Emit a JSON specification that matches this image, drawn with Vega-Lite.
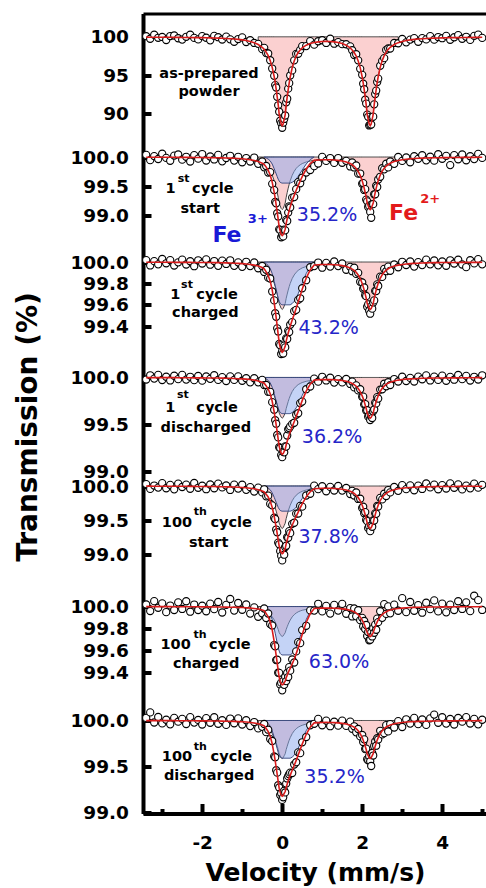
{
"$schema":"https://vega.github.io/schema/vega-lite/v6.json",
"background":"white",
"padding":{"left":14,"top":13.5,"right":0,"bottom":0},
"spacing":0,
"bounds":"flush",
"config":{
 "view":{"stroke":null},
 "axis":{"domainColor":"#000","domainWidth":4,"tickColor":"#000","tickWidth":4,"grid":false,"labelFont":"DejaVu Sans","labelFontWeight":"bold","labelFontSize":18.5,"labelColor":"#000","labelFlush":false,"labelOverlap":false,"titleFont":"DejaVu Sans","titleFontWeight":"bold","titleColor":"#000","zindex":1},
 "axisY":{"tickSize":-8,"labelPadding":22.5},
 "text":{"font":"DejaVu Sans","align":"center","baseline":"middle","color":"#000"}
},
"datasets":{
"lab":[
{"p":1,"k":"lab","s":"as-prepared","v":-1.83,"t":95.21},
{"p":1,"k":"lab","s":"powder","v":-1.83,"t":92.83},
{"p":2,"k":"lab","s":"1","v":-2.79,"t":99.457},
{"p":2,"k":"sup","s":"st","v":-2.465,"t":99.629},
{"p":2,"k":"lab","s":"cycle","v":-1.735,"t":99.457},
{"p":2,"k":"lab","s":"start","v":-2.05,"t":99.112},
{"p":2,"k":"fe3","s":"Fe","v":-1.38,"t":98.652},
{"p":2,"k":"fe3s","s":"3+","v":-0.61,"t":98.926},
{"p":2,"k":"pct","s":"35.2%","v":1.12,"t":98.997},
{"p":2,"k":"fe2","s":"Fe","v":3.035,"t":99.04},
{"p":2,"k":"fe2s","s":"2+","v":3.7,"t":99.271},
{"p":3,"k":"lab","s":"1","v":-2.6725,"t":99.69},
{"p":3,"k":"sup","s":"st","v":-2.38,"t":99.783},
{"p":3,"k":"lab","s":"cycle","v":-1.63,"t":99.69},
{"p":3,"k":"lab","s":"charged","v":-1.9225,"t":99.519},
{"p":3,"k":"pct","s":"43.2%","v":1.16,"t":99.379},
{"p":4,"k":"lab","s":"1","v":-2.7975,"t":99.67},
{"p":4,"k":"sup","s":"st","v":-2.485,"t":99.812},
{"p":4,"k":"lab","s":"cycle","v":-1.63,"t":99.67},
{"p":4,"k":"lab","s":"discharged","v":-1.91,"t":99.457},
{"p":4,"k":"pct","s":"36.2%","v":1.245,"t":99.369},
{"p":5,"k":"lab","s":"100","v":-2.63,"t":99.449},
{"p":5,"k":"sup","s":"th","v":-2.0475,"t":99.621},
{"p":5,"k":"lab","s":"cycle","v":-1.2775,"t":99.449},
{"p":5,"k":"lab","s":"start","v":-1.84,"t":99.169},
{"p":5,"k":"pct","s":"37.8%","v":1.16,"t":99.253},
{"p":6,"k":"lab","s":"100","v":-2.665,"t":99.648},
{"p":6,"k":"sup","s":"th","v":-2.055,"t":99.739},
{"p":6,"k":"lab","s":"cycle","v":-1.31,"t":99.648},
{"p":6,"k":"lab","s":"charged","v":-1.9025,"t":99.482},
{"p":6,"k":"pct","s":"63.0%","v":1.42,"t":99.497},
{"p":7,"k":"lab","s":"100","v":-2.63,"t":99.605},
{"p":7,"k":"sup","s":"th","v":-2.0475,"t":99.714},
{"p":7,"k":"lab","s":"cycle","v":-1.2725,"t":99.605},
{"p":7,"k":"lab","s":"discharged","v":-1.8275,"t":99.399},
{"p":7,"k":"pct","s":"35.2%","v":1.3075,"t":99.388}
],
"d1":[
{"v":-3.4,"o":100.08,"f":99.96},{"v":-3.3,"o":99.75,"f":99.95},{"v":-3.2,"o":100.27,"f":99.95},{"v":-3.1,"o":99.87,"f":99.95},{"v":-3.0,"o":99.98,"f":99.94},{"v":-2.9,"o":99.58,"f":99.94},{"v":-2.8,"o":100.1,"f":99.94},{"v":-2.7,"o":100.17,"f":99.93},{"v":-2.6,"o":99.81,"f":99.93},{"v":-2.5,"o":99.64,"f":99.92},{"v":-2.4,"o":100.0,"f":99.92},{"v":-2.3,"o":100.27,"f":99.91},{"v":-2.2,"o":99.86,"f":99.9},{"v":-2.1,"o":99.66,"f":99.9},{"v":-2.0,"o":100.09,"f":99.89},{"v":-1.9,"o":99.88,"f":99.88},{"v":-1.8,"o":99.54,"f":99.86},{"v":-1.7,"o":100.13,"f":99.85},{"v":-1.6,"o":99.95,"f":99.83},{"v":-1.5,"o":99.65,"f":99.81},{"v":-1.4,"o":100.02,"f":99.78},{"v":-1.3,"o":99.67,"f":99.75},{"v":-1.2,"o":99.35,"f":99.71},{"v":-1.1,"o":99.71,"f":99.67},{"v":-1.0,"o":99.92,"f":99.6},{"v":-0.9,"o":99.32,"f":99.52},{"v":-0.8,"o":99.56,"f":99.4},{"v":-0.7,"o":99.2,"f":99.24},
{"v":-0.6,"o":99.08,"f":99.0,"a":99.0},{"v":-0.5,"o":98.39,"f":98.63,"a":98.63},{"v":-0.45,"o":98.56,"f":98.36,"a":98.36},{"v":-0.4,"o":97.89,"f":98.01,"a":98.01},{"v":-0.35,"o":97.82,"f":97.54,"a":97.54},{"v":-0.3,"o":96.94,"f":96.9,"a":96.9},{"v":-0.25,"o":95.86,"f":96.02,"a":96.02},{"v":-0.2,"o":94.91,"f":94.79,"a":94.79},{"v":-0.175,"o":93.7,"f":94.02,"a":94.02},{"v":-0.15,"o":93.39,"f":93.15,"a":93.15},{"v":-0.125,"o":92.17,"f":92.17,"a":92.17},{"v":-0.1,"o":91.07,"f":91.15,"a":91.15},{"v":-0.075,"o":90.23,"f":89.87,"a":89.87},{"v":-0.05,"o":89.06,"f":89.26,"a":89.26},{"v":-0.025,"o":88.73,"f":88.65,"a":88.65},{"v":0,"o":88.14,"f":88.42,"a":88.42},{"v":0.025,"o":88.8,"f":88.64,"a":88.64},{"v":0.05,"o":89.29,"f":89.25,"a":89.25},{"v":0.075,"o":89.74,"f":89.86,"a":89.86},{"v":0.1,"o":91.45,"f":91.13,"a":91.13},{"v":0.125,"o":91.92,"f":92.16,"a":92.16},{"v":0.15,"o":93.24,"f":93.12,"a":93.12},{"v":0.175,"o":93.96,"f":94.0,"a":94.0},{"v":0.2,"o":94.96,"f":94.76,"a":94.76},{"v":0.25,"o":95.62,"f":95.98,"a":95.98},{"v":0.3,"o":96.93,"f":96.85,"a":96.85},{"v":0.35,"o":97.77,"f":97.49,"a":97.49},{"v":0.4,"o":97.79,"f":97.95,"a":97.95},{"v":0.45,"o":98.29,"f":98.29,"a":98.29},{"v":0.5,"o":98.79,"f":98.55,"a":98.55},
{"v":0.6,"o":98.79,"f":98.91,"a":98.91},{"v":0.7,"o":99.44,"f":99.12,"a":99.12},{"v":0.8,"o":98.98,"f":99.26,"a":99.26},{"v":0.9,"o":99.42,"f":99.34,"a":99.34},{"v":1.0,"o":99.55,"f":99.39,"a":99.39},{"v":1.1,"o":99.2,"f":99.4,"a":99.4},{"v":1.2,"o":99.75,"f":99.39,"a":99.39},{"v":1.3,"o":99.1,"f":99.34,"a":99.34},{"v":1.4,"o":99.3,"f":99.26,"a":99.26},{"v":1.5,"o":99.04,"f":99.12,"a":99.12},{"v":1.6,"o":99.03,"f":98.91,"a":98.91},
{"v":1.7,"o":98.75,"f":98.55,"a":98.55},{"v":1.75,"o":98.25,"f":98.29,"a":98.29},{"v":1.8,"o":97.63,"f":97.95,"a":97.95},{"v":1.85,"o":97.73,"f":97.49,"a":97.49},{"v":1.9,"o":96.93,"f":96.85,"a":96.85},{"v":1.95,"o":95.82,"f":95.98,"a":95.98},{"v":2.0,"o":95.04,"f":94.76,"a":94.76},{"v":2.025,"o":93.88,"f":94.0,"a":94.0},{"v":2.05,"o":93.16,"f":93.12,"a":93.12},{"v":2.075,"o":91.8,"f":92.16,"a":92.16},{"v":2.1,"o":91.29,"f":91.13,"a":91.13},{"v":2.125,"o":89.86,"f":89.86,"a":89.86},{"v":2.15,"o":89.57,"f":89.25,"a":89.25},{"v":2.175,"o":88.44,"f":88.64,"a":88.64},{"v":2.2,"o":88.54,"f":88.42,"a":88.42},{"v":2.225,"o":88.57,"f":88.65,"a":88.65},{"v":2.25,"o":89.5,"f":89.26,"a":89.26},{"v":2.275,"o":89.59,"f":89.87,"a":89.87},{"v":2.3,"o":91.19,"f":91.15,"a":91.15},{"v":2.325,"o":92.53,"f":92.17,"a":92.17},{"v":2.35,"o":92.99,"f":93.15,"a":93.15},{"v":2.375,"o":94.1,"f":94.02,"a":94.02},{"v":2.4,"o":94.55,"f":94.79,"a":94.79},{"v":2.45,"o":96.22,"f":96.02,"a":96.02},{"v":2.5,"o":96.86,"f":96.9,"a":96.9},{"v":2.55,"o":97.22,"f":97.54,"a":97.54},{"v":2.6,"o":98.29,"f":98.01,"a":98.01},{"v":2.65,"o":98.48,"f":98.36,"a":98.36},{"v":2.7,"o":98.47,"f":98.63,"a":98.63},{"v":2.8,"o":99.2,"f":99.0,"a":99.0},{"v":2.9,"o":99.16,"f":99.24,"a":99.24},
{"v":3.0,"o":99.72,"f":99.4},{"v":3.1,"o":99.28,"f":99.52},{"v":3.2,"o":99.64,"f":99.6},{"v":3.3,"o":99.83,"f":99.67},{"v":3.4,"o":99.35,"f":99.71},{"v":3.5,"o":99.83,"f":99.75},{"v":3.6,"o":99.66,"f":99.78},{"v":3.7,"o":100.09,"f":99.81},{"v":3.8,"o":99.63,"f":99.83},{"v":3.9,"o":99.97,"f":99.85},{"v":4.0,"o":99.82,"f":99.86},{"v":4.1,"o":100.12,"f":99.88},{"v":4.2,"o":99.61,"f":99.89},{"v":4.3,"o":99.94,"f":99.9},{"v":4.4,"o":100.22,"f":99.9},{"v":4.5,"o":99.75,"f":99.91},{"v":4.6,"o":100.0,"f":99.92},{"v":4.7,"o":99.6,"f":99.92},{"v":4.8,"o":100.13,"f":99.93},{"v":4.9,"o":100.29,"f":99.93},{"v":5.0,"o":99.86,"f":99.94}
],
"d2":[
{"v":-3.4,"o":100.037,"f":99.997},{"v":-3.3,"o":99.946,"f":99.996},{"v":-3.2,"o":100.016,"f":99.996},{"v":-3.1,"o":99.966,"f":99.996},{"v":-3.0,"o":100.056,"f":99.996},{"v":-2.9,"o":99.985,"f":99.995},{"v":-2.8,"o":99.935,"f":99.995},{"v":-2.7,"o":100.025,"f":99.995},{"v":-2.6,"o":100.044,"f":99.994},{"v":-2.5,"o":99.954,"f":99.994},{"v":-2.4,"o":100.004,"f":99.994},{"v":-2.3,"o":99.923,"f":99.993},{"v":-2.2,"o":100.032,"f":99.992},{"v":-2.1,"o":99.972,"f":99.992},{"v":-2.0,"o":100.051,"f":99.991},{"v":-1.9,"o":99.94,"f":99.99},{"v":-1.8,"o":100.009,"f":99.989},{"v":-1.7,"o":99.958,"f":99.988},{"v":-1.6,"o":100.037,"f":99.987},{"v":-1.5,"o":99.925,"f":99.985},{"v":-1.4,"o":99.983,"f":99.983},{"v":-1.3,"o":100.021,"f":99.981},{"v":-1.2,"o":99.938,"f":99.978},{"v":-1.1,"o":100.004,"f":99.974},{"v":-1.0,"o":99.909,"f":99.969},{"v":-0.9,"o":99.982,"f":99.962},{"v":-0.8,"o":99.923,"f":99.953},{"v":-0.7,"o":99.991,"f":99.941},
{"v":-0.6,"o":99.882,"f":99.922,"a":99.922},{"v":-0.5,"o":99.923,"f":99.893,"a":99.893},{"v":-0.45,"o":99.822,"f":99.872,"a":99.872,"b":100},{"v":-0.4,"o":99.846,"f":99.826,"a":99.844,"b":99.982},{"v":-0.35,"o":99.731,"f":99.771,"a":99.807,"b":99.964},{"v":-0.3,"o":99.74,"f":99.69,"a":99.757,"b":99.933},{"v":-0.25,"o":99.537,"f":99.567,"a":99.689,"b":99.879},{"v":-0.2,"o":99.43,"f":99.39,"a":99.592,"b":99.798},{"v":-0.175,"o":99.225,"f":99.285,"a":99.532,"b":99.753},{"v":-0.15,"o":99.201,"f":99.171,"a":99.464,"b":99.708},{"v":-0.125,"o":99.03,"f":99.05,"a":99.387,"b":99.663},{"v":-0.1,"o":98.975,"f":98.925,"a":99.307,"b":99.618},{"v":-0.075,"o":98.753,"f":98.793,"a":99.207,"b":99.586},{"v":-0.05,"o":98.743,"f":98.723,"a":99.159,"b":99.564},{"v":-0.025,"o":98.616,"f":98.666,"a":99.112,"b":99.555},{"v":0,"o":98.654,"f":98.644,"a":99.094,"b":99.55},{"v":0.025,"o":98.631,"f":98.661,"a":99.111,"b":99.55},{"v":0.05,"o":98.748,"f":98.708,"a":99.158,"b":99.55},{"v":0.075,"o":98.736,"f":98.756,"a":99.206,"b":99.55},{"v":0.1,"o":98.916,"f":98.856,"a":99.306,"b":99.55},{"v":0.125,"o":98.896,"f":98.936,"a":99.386,"b":99.55},{"v":0.15,"o":99.042,"f":99.012,"a":99.462,"b":99.55},{"v":0.175,"o":99.15,"f":99.08,"a":99.53,"b":99.55},{"v":0.2,"o":99.13,"f":99.14,"a":99.59,"b":99.55},{"v":0.25,"o":99.299,"f":99.249,"a":99.685,"b":99.564},{"v":0.3,"o":99.309,"f":99.339,"a":99.753,"b":99.586},{"v":0.35,"o":99.446,"f":99.426,"a":99.804,"b":99.622},{"v":0.4,"o":99.567,"f":99.507,"a":99.84,"b":99.667},{"v":0.45,"o":99.547,"f":99.587,"a":99.866,"b":99.721},{"v":0.5,"o":99.642,"f":99.662,"a":99.887,"b":99.775},{"v":0.6,"o":99.733,"f":99.793,"a":99.914,"b":99.879},{"v":0.7,"o":99.776,"f":99.886,"a":99.931,"b":99.955},{"v":0.8,"o":99.842,"f":99.942,"a":99.942,"b":100},
{"v":0.9,"o":99.888,"f":99.948,"a":99.948},{"v":1.0,"o":100.002,"f":99.952,"a":99.952},{"v":1.1,"o":99.933,"f":99.953,"a":99.953},{"v":1.2,"o":99.982,"f":99.952,"a":99.952},{"v":1.3,"o":99.898,"f":99.948,"a":99.948},{"v":1.4,"o":99.982,"f":99.942,"a":99.942},{"v":1.5,"o":99.901,"f":99.931,"a":99.931},{"v":1.6,"o":99.934,"f":99.914,"a":99.914},
{"v":1.7,"o":99.837,"f":99.887,"a":99.887},{"v":1.75,"o":99.906,"f":99.866,"a":99.866},{"v":1.8,"o":99.82,"f":99.84,"a":99.84},{"v":1.85,"o":99.854,"f":99.804,"a":99.804},{"v":1.9,"o":99.713,"f":99.753,"a":99.753},{"v":1.95,"o":99.715,"f":99.685,"a":99.685},{"v":2.0,"o":99.54,"f":99.59,"a":99.59},{"v":2.025,"o":99.55,"f":99.53,"a":99.53},{"v":2.05,"o":99.432,"f":99.462,"a":99.462},{"v":2.075,"o":99.446,"f":99.386,"a":99.386},{"v":2.1,"o":99.266,"f":99.306,"a":99.306},{"v":2.125,"o":99.236,"f":99.206,"a":99.206},{"v":2.15,"o":99.138,"f":99.158,"a":99.158},{"v":2.175,"o":99.161,"f":99.111,"a":99.111},{"v":2.2,"o":99.054,"f":99.094,"a":99.094},{"v":2.225,"o":98.952,"f":99.112,"a":99.112},{"v":2.25,"o":99.189,"f":99.159,"a":99.159},{"v":2.275,"o":99.187,"f":99.207,"a":99.207},{"v":2.3,"o":99.357,"f":99.307,"a":99.307},{"v":2.325,"o":99.357,"f":99.387,"a":99.387},{"v":2.35,"o":99.504,"f":99.464,"a":99.464},{"v":2.375,"o":99.482,"f":99.532,"a":99.532},{"v":2.4,"o":99.612,"f":99.592,"a":99.592},{"v":2.45,"o":99.659,"f":99.689,"a":99.689},{"v":2.5,"o":99.807,"f":99.757,"a":99.757},{"v":2.55,"o":99.787,"f":99.807,"a":99.807},{"v":2.6,"o":99.884,"f":99.844,"a":99.844},{"v":2.65,"o":99.821,"f":99.871,"a":99.871},{"v":2.7,"o":99.923,"f":99.893,"a":99.893},{"v":2.8,"o":99.882,"f":99.922,"a":99.922},{"v":2.9,"o":100.001,"f":99.941,"a":99.941},
{"v":3.0,"o":99.933,"f":99.953},{"v":3.1,"o":99.992,"f":99.962},{"v":3.2,"o":99.909,"f":99.969},{"v":3.3,"o":100.014,"f":99.974},{"v":3.4,"o":99.968,"f":99.978},{"v":3.5,"o":100.031,"f":99.981},{"v":3.6,"o":99.943,"f":99.983},{"v":3.7,"o":100.005,"f":99.985},{"v":3.8,"o":99.937,"f":99.987},{"v":3.9,"o":100.048,"f":99.988},{"v":4.0,"o":99.969,"f":99.989},{"v":4.1,"o":100.02,"f":99.99},{"v":4.2,"o":99.861,"f":99.991},{"v":4.3,"o":100.032,"f":99.992},{"v":4.4,"o":99.962,"f":99.992},{"v":4.5,"o":100.043,"f":99.993},{"v":4.6,"o":99.944,"f":99.994},{"v":4.7,"o":100.014,"f":99.994},{"v":4.8,"o":99.964,"f":99.994},{"v":4.9,"o":100.055,"f":99.995},{"v":5.0,"o":99.985,"f":99.995}
],
"d3":[
{"v":-3.4,"o":100.018,"f":99.998},{"v":-3.3,"o":99.968,"f":99.998},{"v":-3.2,"o":100.008,"f":99.998},{"v":-3.1,"o":99.978,"f":99.998},{"v":-3.0,"o":100.028,"f":99.998},{"v":-2.9,"o":99.988,"f":99.998},{"v":-2.8,"o":100.018,"f":99.998},{"v":-2.7,"o":99.967,"f":99.997},{"v":-2.6,"o":99.997,"f":99.997},{"v":-2.5,"o":100.022,"f":99.997},{"v":-2.4,"o":99.977,"f":99.997},{"v":-2.3,"o":100.007,"f":99.997},{"v":-2.2,"o":99.961,"f":99.996},{"v":-2.1,"o":100.016,"f":99.996},{"v":-2.0,"o":99.986,"f":99.996},{"v":-1.9,"o":100.025,"f":99.995},{"v":-1.8,"o":99.975,"f":99.995},{"v":-1.7,"o":100.009,"f":99.994},{"v":-1.6,"o":99.964,"f":99.994},{"v":-1.5,"o":100.013,"f":99.993},{"v":-1.4,"o":99.982,"f":99.992},{"v":-1.3,"o":100.016,"f":99.991},{"v":-1.2,"o":99.964,"f":99.989},{"v":-1.1,"o":99.997,"f":99.987},{"v":-1.0,"o":99.955,"f":99.985},{"v":-0.9,"o":100.002,"f":99.982},{"v":-0.8,"o":99.962,"f":99.977},{"v":-0.7,"o":99.996,"f":99.971},
{"v":-0.6,"o":99.942,"f":99.962,"a":99.962},{"v":-0.5,"o":99.963,"f":99.948,"a":99.948},{"v":-0.45,"o":99.907,"f":99.937,"a":99.937,"b":100},{"v":-0.4,"o":99.928,"f":99.908,"a":99.924,"b":99.984},{"v":-0.35,"o":99.854,"f":99.874,"a":99.906,"b":99.968},{"v":-0.3,"o":99.846,"f":99.821,"a":99.881,"b":99.94},{"v":-0.25,"o":99.725,"f":99.74,"a":99.848,"b":99.892},{"v":-0.2,"o":99.641,"f":99.621,"a":99.801,"b":99.82},{"v":-0.175,"o":99.521,"f":99.551,"a":99.771,"b":99.78},{"v":-0.15,"o":99.488,"f":99.478,"a":99.738,"b":99.74},{"v":-0.125,"o":99.38,"f":99.4,"a":99.7,"b":99.7},{"v":-0.1,"o":99.351,"f":99.321,"a":99.661,"b":99.66},{"v":-0.075,"o":99.234,"f":99.244,"a":99.612,"b":99.632},{"v":-0.05,"o":99.221,"f":99.201,"a":99.589,"b":99.612},{"v":-0.025,"o":99.14,"f":99.17,"a":99.566,"b":99.604},{"v":0,"o":99.167,"f":99.157,"a":99.557,"b":99.6},{"v":0.025,"o":99.145,"f":99.165,"a":99.565,"b":99.6},{"v":0.05,"o":99.219,"f":99.189,"a":99.589,"b":99.6},{"v":0.075,"o":99.202,"f":99.212,"a":99.612,"b":99.6},{"v":0.1,"o":99.286,"f":99.261,"a":99.661,"b":99.6},{"v":0.125,"o":99.28,"f":99.3,"a":99.7,"b":99.6},{"v":0.15,"o":99.357,"f":99.337,"a":99.737,"b":99.6},{"v":0.175,"o":99.345,"f":99.37,"a":99.77,"b":99.6},{"v":0.2,"o":99.414,"f":99.399,"a":99.799,"b":99.6},{"v":0.25,"o":99.438,"f":99.458,"a":99.846,"b":99.612},{"v":0.3,"o":99.541,"f":99.511,"a":99.879,"b":99.632},{"v":0.35,"o":99.553,"f":99.568,"a":99.904,"b":99.664},{"v":0.4,"o":99.646,"f":99.626,"a":99.922,"b":99.704},{"v":0.45,"o":99.661,"f":99.686,"a":99.934,"b":99.752},{"v":0.5,"o":99.755,"f":99.745,"a":99.945,"b":99.8},{"v":0.6,"o":99.83,"f":99.85,"a":99.958,"b":99.892},{"v":0.7,"o":99.951,"f":99.926,"a":99.966,"b":99.96},{"v":0.8,"o":99.962,"f":99.972,"a":99.972,"b":100},
{"v":0.9,"o":99.995,"f":99.975,"a":99.975},{"v":1.0,"o":99.947,"f":99.977,"a":99.977},{"v":1.1,"o":99.992,"f":99.977,"a":99.977},{"v":1.2,"o":99.957,"f":99.977,"a":99.977},{"v":1.3,"o":100.005,"f":99.975,"a":99.975},{"v":1.4,"o":99.962,"f":99.972,"a":99.972},{"v":1.5,"o":99.986,"f":99.966,"a":99.966},{"v":1.6,"o":99.928,"f":99.958,"a":99.958},
{"v":1.7,"o":99.955,"f":99.945,"a":99.945},{"v":1.75,"o":99.914,"f":99.934,"a":99.934},{"v":1.8,"o":99.947,"f":99.922,"a":99.922},{"v":1.85,"o":99.889,"f":99.904,"a":99.904},{"v":1.9,"o":99.899,"f":99.879,"a":99.879},{"v":1.95,"o":99.816,"f":99.846,"a":99.846},{"v":2.0,"o":99.809,"f":99.799,"a":99.799},{"v":2.025,"o":99.75,"f":99.77,"a":99.77},{"v":2.05,"o":99.762,"f":99.737,"a":99.737},{"v":2.075,"o":99.69,"f":99.7,"a":99.7},{"v":2.1,"o":99.681,"f":99.661,"a":99.661},{"v":2.125,"o":99.582,"f":99.612,"a":99.612},{"v":2.15,"o":99.604,"f":99.589,"a":99.589},{"v":2.175,"o":99.545,"f":99.565,"a":99.565},{"v":2.2,"o":99.517,"f":99.557,"a":99.557},{"v":2.225,"o":99.586,"f":99.566,"a":99.566},{"v":2.25,"o":99.564,"f":99.589,"a":99.589},{"v":2.275,"o":99.622,"f":99.612,"a":99.612},{"v":2.3,"o":99.641,"f":99.661,"a":99.661},{"v":2.325,"o":99.73,"f":99.7,"a":99.7},{"v":2.35,"o":99.728,"f":99.738,"a":99.738},{"v":2.375,"o":99.791,"f":99.771,"a":99.771},{"v":2.4,"o":99.776,"f":99.801,"a":99.801},{"v":2.45,"o":99.863,"f":99.848,"a":99.848},{"v":2.5,"o":99.861,"f":99.881,"a":99.881},{"v":2.55,"o":99.936,"f":99.906,"a":99.906},{"v":2.6,"o":99.914,"f":99.924,"a":99.924},{"v":2.65,"o":99.957,"f":99.937,"a":99.937},{"v":2.7,"o":99.918,"f":99.948,"a":99.948},{"v":2.8,"o":99.977,"f":99.962,"a":99.962},{"v":2.9,"o":99.951,"f":99.971,"a":99.971},
{"v":3.0,"o":100.002,"f":99.977},{"v":3.1,"o":99.972,"f":99.982},{"v":3.2,"o":100.005,"f":99.985},{"v":3.3,"o":99.957,"f":99.987},{"v":3.4,"o":99.999,"f":99.989},{"v":3.5,"o":99.971,"f":99.991},{"v":3.6,"o":100.022,"f":99.992},{"v":3.7,"o":99.978,"f":99.993},{"v":3.8,"o":100.014,"f":99.994},{"v":3.9,"o":99.969,"f":99.994},{"v":4.0,"o":100.005,"f":99.995},{"v":4.1,"o":99.965,"f":99.995},{"v":4.2,"o":100.016,"f":99.996},{"v":4.3,"o":99.986,"f":99.996},{"v":4.4,"o":100.021,"f":99.996},{"v":4.5,"o":99.977,"f":99.997},{"v":4.6,"o":99.952,"f":99.997},{"v":4.7,"o":100.017,"f":99.997},{"v":4.8,"o":99.987,"f":99.997},{"v":4.9,"o":100.027,"f":99.997},{"v":5.0,"o":99.978,"f":99.998}
],
"d4":[
{"v":-3.4,"o":99.978,"f":99.998},{"v":-3.3,"o":100.023,"f":99.998},{"v":-3.2,"o":99.988,"f":99.998},{"v":-3.1,"o":100.028,"f":99.998},{"v":-3.0,"o":99.973,"f":99.998},{"v":-2.9,"o":100.008,"f":99.998},{"v":-2.8,"o":99.968,"f":99.998},{"v":-2.7,"o":100.018,"f":99.998},{"v":-2.6,"o":99.982,"f":99.997},{"v":-2.5,"o":100.027,"f":99.997},{"v":-2.4,"o":99.977,"f":99.997},{"v":-2.3,"o":100.007,"f":99.997},{"v":-2.2,"o":99.971,"f":99.996},{"v":-2.1,"o":100.016,"f":99.996},{"v":-2.0,"o":99.966,"f":99.996},{"v":-1.9,"o":100.01,"f":99.995},{"v":-1.8,"o":99.985,"f":99.995},{"v":-1.7,"o":100.024,"f":99.994},{"v":-1.6,"o":99.974,"f":99.994},{"v":-1.5,"o":100.003,"f":99.993},{"v":-1.4,"o":99.962,"f":99.992},{"v":-1.3,"o":100.011,"f":99.991},{"v":-1.2,"o":99.974,"f":99.989},{"v":-1.1,"o":100.012,"f":99.987},{"v":-1.0,"o":99.965,"f":99.985},{"v":-0.9,"o":99.992,"f":99.982},{"v":-0.8,"o":99.948,"f":99.978},{"v":-0.7,"o":99.992,"f":99.972},
{"v":-0.6,"o":99.948,"f":99.963,"a":99.963},{"v":-0.5,"o":99.974,"f":99.949,"a":99.949},{"v":-0.45,"o":99.919,"f":99.939,"a":99.939,"b":100},{"v":-0.4,"o":99.92,"f":99.91,"a":99.926,"b":99.985},{"v":-0.35,"o":99.847,"f":99.877,"a":99.908,"b":99.969},{"v":-0.3,"o":99.846,"f":99.826,"a":99.884,"b":99.942},{"v":-0.25,"o":99.737,"f":99.747,"a":99.851,"b":99.896},{"v":-0.2,"o":99.657,"f":99.632,"a":99.805,"b":99.827},{"v":-0.175,"o":99.545,"f":99.565,"a":99.776,"b":99.788},{"v":-0.15,"o":99.508,"f":99.493,"a":99.744,"b":99.75},{"v":-0.125,"o":99.388,"f":99.418,"a":99.707,"b":99.711},{"v":-0.1,"o":99.362,"f":99.342,"a":99.669,"b":99.673},{"v":-0.075,"o":99.257,"f":99.267,"a":99.621,"b":99.646},{"v":-0.05,"o":99.25,"f":99.225,"a":99.598,"b":99.627},{"v":-0.025,"o":99.174,"f":99.194,"a":99.576,"b":99.619},{"v":0,"o":99.152,"f":99.182,"a":99.567,"b":99.615},{"v":0.025,"o":99.21,"f":99.19,"a":99.575,"b":99.615},{"v":0.05,"o":99.203,"f":99.213,"a":99.598,"b":99.615},{"v":0.075,"o":99.266,"f":99.236,"a":99.621,"b":99.615},{"v":0.1,"o":99.264,"f":99.284,"a":99.669,"b":99.615},{"v":0.125,"o":99.382,"f":99.322,"a":99.707,"b":99.615},{"v":0.15,"o":99.448,"f":99.358,"a":99.743,"b":99.615},{"v":0.175,"o":99.461,"f":99.391,"a":99.776,"b":99.615},{"v":0.2,"o":99.479,"f":99.419,"a":99.804,"b":99.615},{"v":0.25,"o":99.506,"f":99.476,"a":99.85,"b":99.627},{"v":0.3,"o":99.518,"f":99.528,"a":99.882,"b":99.646},{"v":0.35,"o":99.603,"f":99.583,"a":99.906,"b":99.677},{"v":0.4,"o":99.619,"f":99.639,"a":99.924,"b":99.715},{"v":0.45,"o":99.727,"f":99.697,"a":99.936,"b":99.761},{"v":0.5,"o":99.743,"f":99.753,"a":99.946,"b":99.808},{"v":0.6,"o":99.875,"f":99.855,"a":99.959,"b":99.896},{"v":0.7,"o":99.904,"f":99.929,"a":99.967,"b":99.962},{"v":0.8,"o":99.987,"f":99.972,"a":99.972,"b":100},
{"v":0.9,"o":99.955,"f":99.975,"a":99.975},{"v":1.0,"o":100.007,"f":99.977,"a":99.977},{"v":1.1,"o":99.968,"f":99.978,"a":99.978},{"v":1.2,"o":99.997,"f":99.977,"a":99.977},{"v":1.3,"o":99.945,"f":99.975,"a":99.975},{"v":1.4,"o":99.982,"f":99.972,"a":99.972},{"v":1.5,"o":99.947,"f":99.967,"a":99.967},{"v":1.6,"o":99.984,"f":99.959,"a":99.959},
{"v":1.7,"o":99.931,"f":99.946,"a":99.946},{"v":1.75,"o":99.956,"f":99.936,"a":99.936},{"v":1.8,"o":99.894,"f":99.924,"a":99.924},{"v":1.85,"o":99.916,"f":99.906,"a":99.906},{"v":1.9,"o":99.862,"f":99.882,"a":99.882},{"v":1.95,"o":99.875,"f":99.85,"a":99.85},{"v":2.0,"o":99.794,"f":99.804,"a":99.804},{"v":2.025,"o":99.796,"f":99.776,"a":99.776},{"v":2.05,"o":99.713,"f":99.743,"a":99.743},{"v":2.075,"o":99.717,"f":99.707,"a":99.707},{"v":2.1,"o":99.649,"f":99.669,"a":99.669},{"v":2.125,"o":99.651,"f":99.621,"a":99.621},{"v":2.15,"o":99.583,"f":99.598,"a":99.598},{"v":2.175,"o":99.595,"f":99.575,"a":99.575},{"v":2.2,"o":99.547,"f":99.567,"a":99.567},{"v":2.225,"o":99.586,"f":99.576,"a":99.576},{"v":2.25,"o":99.568,"f":99.598,"a":99.598},{"v":2.275,"o":99.641,"f":99.621,"a":99.621},{"v":2.3,"o":99.659,"f":99.669,"a":99.669},{"v":2.325,"o":99.732,"f":99.707,"a":99.707},{"v":2.35,"o":99.724,"f":99.744,"a":99.744},{"v":2.375,"o":99.791,"f":99.776,"a":99.776},{"v":2.4,"o":99.775,"f":99.805,"a":99.805},{"v":2.45,"o":99.871,"f":99.851,"a":99.851},{"v":2.5,"o":99.874,"f":99.884,"a":99.884},{"v":2.55,"o":99.933,"f":99.908,"a":99.908},{"v":2.6,"o":99.906,"f":99.926,"a":99.926},{"v":2.65,"o":99.949,"f":99.939,"a":99.939},{"v":2.7,"o":99.919,"f":99.949,"a":99.949},{"v":2.8,"o":99.983,"f":99.963,"a":99.963},{"v":2.9,"o":99.957,"f":99.972,"a":99.972},
{"v":3.0,"o":100.008,"f":99.978},{"v":3.1,"o":99.962,"f":99.982},{"v":3.2,"o":99.995,"f":99.985},{"v":3.3,"o":99.957,"f":99.987},{"v":3.4,"o":100.009,"f":99.989},{"v":3.5,"o":99.981,"f":99.991},{"v":3.6,"o":100.022,"f":99.992},{"v":3.7,"o":99.968,"f":99.993},{"v":3.8,"o":100.009,"f":99.994},{"v":3.9,"o":99.974,"f":99.994},{"v":4.0,"o":100.02,"f":99.995},{"v":4.1,"o":99.965,"f":99.995},{"v":4.2,"o":100.006,"f":99.996},{"v":4.3,"o":99.976,"f":99.996},{"v":4.4,"o":100.026,"f":99.996},{"v":4.5,"o":99.982,"f":99.997},{"v":4.6,"o":100.017,"f":99.997},{"v":4.7,"o":99.967,"f":99.997},{"v":4.8,"o":100.007,"f":99.997},{"v":4.9,"o":99.978,"f":99.998},{"v":5.0,"o":100.023,"f":99.998}
],
"d5":[
{"v":-3.4,"o":100.028,"f":99.998},{"v":-3.3,"o":99.958,"f":99.998},{"v":-3.2,"o":100.007,"f":99.997},{"v":-3.1,"o":99.977,"f":99.997},{"v":-3.0,"o":100.042,"f":99.997},{"v":-2.9,"o":99.967,"f":99.997},{"v":-2.8,"o":100.017,"f":99.997},{"v":-2.7,"o":99.951,"f":99.996},{"v":-2.6,"o":100.036,"f":99.996},{"v":-2.5,"o":99.986,"f":99.996},{"v":-2.4,"o":100.021,"f":99.996},{"v":-2.3,"o":99.96,"f":99.995},{"v":-2.2,"o":100.045,"f":99.995},{"v":-2.1,"o":99.974,"f":99.994},{"v":-2.0,"o":100.004,"f":99.994},{"v":-1.9,"o":99.953,"f":99.993},{"v":-1.8,"o":100.023,"f":99.993},{"v":-1.7,"o":99.967,"f":99.992},{"v":-1.6,"o":100.036,"f":99.991},{"v":-1.5,"o":99.98,"f":99.99},{"v":-1.4,"o":100.008,"f":99.988},{"v":-1.3,"o":99.942,"f":99.987},{"v":-1.2,"o":100.02,"f":99.985},{"v":-1.1,"o":99.962,"f":99.982},{"v":-1.0,"o":100.019,"f":99.979},{"v":-0.9,"o":99.944,"f":99.974},{"v":-0.8,"o":99.983,"f":99.968},{"v":-0.7,"o":99.919,"f":99.959},
{"v":-0.6,"o":99.976,"f":99.946,"a":99.946},{"v":-0.5,"o":99.906,"f":99.926,"a":99.926},{"v":-0.45,"o":99.952,"f":99.912,"a":99.912,"b":100},{"v":-0.4,"o":99.848,"f":99.878,"a":99.893,"b":99.985},{"v":-0.35,"o":99.858,"f":99.838,"a":99.867,"b":99.97},{"v":-0.3,"o":99.737,"f":99.777,"a":99.833,"b":99.945},{"v":-0.25,"o":99.716,"f":99.686,"a":99.786,"b":99.9},{"v":-0.2,"o":99.533,"f":99.553,"a":99.719,"b":99.834},{"v":-0.175,"o":99.514,"f":99.474,"a":99.678,"b":99.797},{"v":-0.15,"o":99.36,"f":99.39,"a":99.631,"b":99.76},{"v":-0.125,"o":99.32,"f":99.3,"a":99.578,"b":99.723},{"v":-0.1,"o":99.168,"f":99.208,"a":99.523,"b":99.686},{"v":-0.075,"o":99.143,"f":99.113,"a":99.454,"b":99.66},{"v":-0.05,"o":99.042,"f":99.062,"a":99.421,"b":99.641},{"v":-0.025,"o":98.972,"f":99.022,"a":99.388,"b":99.634},{"v":0,"o":98.906,"f":99.006,"a":99.376,"b":99.63},{"v":0.025,"o":99.057,"f":99.017,"a":99.387,"b":99.63},{"v":0.05,"o":98.99,"f":99.05,"a":99.42,"b":99.63},{"v":0.075,"o":99.103,"f":99.083,"a":99.453,"b":99.63},{"v":0.1,"o":99.122,"f":99.152,"a":99.522,"b":99.63},{"v":0.125,"o":99.247,"f":99.207,"a":99.577,"b":99.63},{"v":0.15,"o":99.239,"f":99.259,"a":99.629,"b":99.63},{"v":0.175,"o":99.336,"f":99.306,"a":99.676,"b":99.63},{"v":0.2,"o":99.307,"f":99.347,"a":99.717,"b":99.63},{"v":0.25,"o":99.444,"f":99.424,"a":99.783,"b":99.641},{"v":0.3,"o":99.46,"f":99.49,"a":99.83,"b":99.66},{"v":0.35,"o":99.594,"f":99.554,"a":99.865,"b":99.689},{"v":0.4,"o":99.596,"f":99.616,"a":99.89,"b":99.726},{"v":0.45,"o":99.708,"f":99.678,"a":99.908,"b":99.771},{"v":0.5,"o":99.697,"f":99.737,"a":99.922,"b":99.815},{"v":0.6,"o":99.861,"f":99.841,"a":99.941,"b":99.9},{"v":0.7,"o":99.886,"f":99.916,"a":99.953,"b":99.963},{"v":0.8,"o":100.005,"f":99.96,"a":99.96,"b":100},
{"v":0.9,"o":99.954,"f":99.964,"a":99.964},{"v":1.0,"o":99.997,"f":99.967,"a":99.967},{"v":1.1,"o":99.923,"f":99.968,"a":99.968},{"v":1.2,"o":99.987,"f":99.967,"a":99.967},{"v":1.3,"o":99.934,"f":99.964,"a":99.964},{"v":1.4,"o":100.0,"f":99.96,"a":99.96},{"v":1.5,"o":99.933,"f":99.953,"a":99.953},{"v":1.6,"o":99.971,"f":99.941,"a":99.941},
{"v":1.7,"o":99.882,"f":99.922,"a":99.922},{"v":1.75,"o":99.928,"f":99.908,"a":99.908},{"v":1.8,"o":99.86,"f":99.89,"a":99.89},{"v":1.85,"o":99.905,"f":99.865,"a":99.865},{"v":1.9,"o":99.81,"f":99.83,"a":99.83},{"v":1.95,"o":99.813,"f":99.783,"a":99.783},{"v":2.0,"o":99.677,"f":99.717,"a":99.717},{"v":2.025,"o":99.696,"f":99.676,"a":99.676},{"v":2.05,"o":99.599,"f":99.629,"a":99.629},{"v":2.075,"o":99.617,"f":99.577,"a":99.577},{"v":2.1,"o":99.502,"f":99.522,"a":99.522},{"v":2.125,"o":99.483,"f":99.453,"a":99.453},{"v":2.15,"o":99.38,"f":99.42,"a":99.42},{"v":2.175,"o":99.407,"f":99.387,"a":99.387},{"v":2.2,"o":99.336,"f":99.376,"a":99.376},{"v":2.225,"o":99.418,"f":99.388,"a":99.388},{"v":2.25,"o":99.401,"f":99.421,"a":99.421},{"v":2.275,"o":99.494,"f":99.454,"a":99.454},{"v":2.3,"o":99.493,"f":99.523,"a":99.523},{"v":2.325,"o":99.598,"f":99.578,"a":99.578},{"v":2.35,"o":99.591,"f":99.631,"a":99.631},{"v":2.375,"o":99.708,"f":99.678,"a":99.678},{"v":2.4,"o":99.699,"f":99.719,"a":99.719},{"v":2.45,"o":99.826,"f":99.786,"a":99.786},{"v":2.5,"o":99.803,"f":99.833,"a":99.833},{"v":2.55,"o":99.887,"f":99.867,"a":99.867},{"v":2.6,"o":99.853,"f":99.893,"a":99.893},{"v":2.65,"o":99.941,"f":99.911,"a":99.911},{"v":2.7,"o":99.906,"f":99.926,"a":99.926},{"v":2.8,"o":99.986,"f":99.946,"a":99.946},{"v":2.9,"o":99.929,"f":99.959,"a":99.959},
{"v":3.0,"o":100.013,"f":99.968},{"v":3.1,"o":99.954,"f":99.974},{"v":3.2,"o":100.009,"f":99.979},{"v":3.3,"o":99.937,"f":99.982},{"v":3.4,"o":100.005,"f":99.985},{"v":3.5,"o":99.957,"f":99.987},{"v":3.6,"o":100.038,"f":99.988},{"v":3.7,"o":99.98,"f":99.99},{"v":3.8,"o":100.021,"f":99.991},{"v":3.9,"o":99.952,"f":99.992},{"v":4.0,"o":100.013,"f":99.993},{"v":4.1,"o":99.963,"f":99.993},{"v":4.2,"o":100.039,"f":99.994},{"v":4.3,"o":99.974,"f":99.994},{"v":4.4,"o":100.025,"f":99.995},{"v":4.5,"o":99.95,"f":99.995},{"v":4.6,"o":100.006,"f":99.996},{"v":4.7,"o":99.966,"f":99.996},{"v":4.8,"o":100.036,"f":99.996},{"v":4.9,"o":99.976,"f":99.996},{"v":5.0,"o":100.017,"f":99.997}
],
"d6":[
{"v":-3.4,"o":100.019,"f":99.999},{"v":-3.3,"o":99.959,"f":99.999},{"v":-3.2,"o":100.049,"f":99.999},{"v":-3.1,"o":99.989,"f":99.999},{"v":-3.0,"o":100.029,"f":99.999},{"v":-2.9,"o":99.949,"f":99.999},{"v":-2.8,"o":100.009,"f":99.999},{"v":-2.7,"o":99.968,"f":99.998},{"v":-2.6,"o":100.038,"f":99.998},{"v":-2.5,"o":99.978,"f":99.998},{"v":-2.4,"o":100.048,"f":99.998},{"v":-2.3,"o":99.953,"f":99.998},{"v":-2.2,"o":100.018,"f":99.998},{"v":-2.1,"o":99.968,"f":99.998},{"v":-2.0,"o":100.007,"f":99.997},{"v":-1.9,"o":99.957,"f":99.997},{"v":-1.8,"o":100.027,"f":99.997},{"v":-1.7,"o":99.976,"f":99.996},{"v":-1.6,"o":100.041,"f":99.996},{"v":-1.5,"o":99.946,"f":99.996},{"v":-1.4,"o":100.015,"f":99.995},{"v":-1.3,"o":100.069,"f":99.994},{"v":-1.2,"o":99.963,"f":99.993},{"v":-1.1,"o":100.032,"f":99.992},{"v":-1.0,"o":99.971,"f":99.991},{"v":-0.9,"o":100.019,"f":99.989},{"v":-0.8,"o":99.936,"f":99.986},{"v":-0.7,"o":99.992,"f":99.982},
{"v":-0.6,"o":99.907,"f":99.977,"a":99.977},{"v":-0.5,"o":99.938,"f":99.968,"a":99.968},{"v":-0.45,"o":99.982,"f":99.962,"a":99.962,"b":100},{"v":-0.4,"o":99.896,"f":99.936,"a":99.953,"b":99.982},{"v":-0.35,"o":99.937,"f":99.907,"a":99.942,"b":99.965},{"v":-0.3,"o":99.841,"f":99.861,"a":99.927,"b":99.934},{"v":-0.25,"o":99.828,"f":99.788,"a":99.907,"b":99.881},{"v":-0.2,"o":99.65,"f":99.68,"a":99.878,"b":99.802},{"v":-0.175,"o":99.638,"f":99.618,"a":99.86,"b":99.758},{"v":-0.15,"o":99.513,"f":99.553,"a":99.839,"b":99.714},{"v":-0.125,"o":99.516,"f":99.486,"a":99.816,"b":99.67},{"v":-0.1,"o":99.398,"f":99.418,"a":99.792,"b":99.626},{"v":-0.075,"o":99.397,"f":99.357,"a":99.762,"b":99.595},{"v":-0.05,"o":99.291,"f":99.321,"a":99.748,"b":99.573},{"v":-0.025,"o":99.308,"f":99.298,"a":99.734,"b":99.564},{"v":0,"o":99.238,"f":99.288,"a":99.728,"b":99.56},{"v":0.025,"o":99.323,"f":99.293,"a":99.733,"b":99.56},{"v":0.05,"o":99.288,"f":99.308,"a":99.748,"b":99.56},{"v":0.075,"o":99.362,"f":99.322,"a":99.762,"b":99.56},{"v":0.1,"o":99.322,"f":99.352,"a":99.792,"b":99.56},{"v":0.125,"o":99.396,"f":99.376,"a":99.816,"b":99.56},{"v":0.15,"o":99.359,"f":99.399,"a":99.839,"b":99.56},{"v":0.175,"o":99.449,"f":99.419,"a":99.859,"b":99.56},{"v":0.2,"o":99.417,"f":99.437,"a":99.877,"b":99.56},{"v":0.25,"o":99.519,"f":99.479,"a":99.906,"b":99.573},{"v":0.3,"o":99.491,"f":99.521,"a":99.926,"b":99.595},{"v":0.35,"o":99.592,"f":99.572,"a":99.941,"b":99.63},{"v":0.4,"o":99.676,"f":99.626,"a":99.952,"b":99.674},{"v":0.45,"o":99.667,"f":99.687,"a":99.96,"b":99.727},{"v":0.5,"o":99.786,"f":99.746,"a":99.966,"b":99.78},{"v":0.6,"o":99.825,"f":99.855,"a":99.974,"b":99.881},{"v":0.7,"o":99.965,"f":99.935,"a":99.979,"b":99.956},{"v":0.8,"o":99.963,"f":99.983,"a":99.983,"b":100},
{"v":0.9,"o":100.025,"f":99.985,"a":99.985},{"v":1.0,"o":99.956,"f":99.986,"a":99.986},{"v":1.1,"o":100.006,"f":99.986,"a":99.986},{"v":1.2,"o":99.936,"f":99.986,"a":99.986},{"v":1.3,"o":100.015,"f":99.985,"a":99.985},{"v":1.4,"o":99.963,"f":99.983,"a":99.983},{"v":1.5,"o":100.024,"f":99.979,"a":99.979},{"v":1.6,"o":99.934,"f":99.974,"a":99.974},
{"v":1.7,"o":99.986,"f":99.966,"a":99.966},{"v":1.75,"o":99.91,"f":99.96,"a":99.96},{"v":1.8,"o":99.982,"f":99.952,"a":99.952},{"v":1.85,"o":99.911,"f":99.941,"a":99.941},{"v":1.9,"o":99.966,"f":99.926,"a":99.926},{"v":1.95,"o":99.876,"f":99.906,"a":99.906},{"v":2.0,"o":99.897,"f":99.877,"a":99.877},{"v":2.025,"o":99.819,"f":99.859,"a":99.859},{"v":2.05,"o":99.869,"f":99.839,"a":99.839},{"v":2.075,"o":99.796,"f":99.816,"a":99.816},{"v":2.1,"o":99.832,"f":99.792,"a":99.792},{"v":2.125,"o":99.732,"f":99.762,"a":99.762},{"v":2.15,"o":99.768,"f":99.748,"a":99.748},{"v":2.175,"o":99.693,"f":99.733,"a":99.733},{"v":2.2,"o":99.698,"f":99.728,"a":99.728},{"v":2.225,"o":99.764,"f":99.734,"a":99.734},{"v":2.25,"o":99.728,"f":99.748,"a":99.748},{"v":2.275,"o":99.802,"f":99.762,"a":99.762},{"v":2.3,"o":99.762,"f":99.792,"a":99.792},{"v":2.325,"o":99.836,"f":99.816,"a":99.816},{"v":2.35,"o":99.789,"f":99.839,"a":99.839},{"v":2.375,"o":99.89,"f":99.86,"a":99.86},{"v":2.4,"o":99.858,"f":99.878,"a":99.878},{"v":2.45,"o":99.957,"f":99.907,"a":99.907},{"v":2.5,"o":99.897,"f":99.927,"a":99.927},{"v":2.55,"o":100.022,"f":99.942,"a":99.942},{"v":2.6,"o":99.933,"f":99.953,"a":99.953},{"v":2.65,"o":100.001,"f":99.961,"a":99.961},{"v":2.7,"o":99.938,"f":99.968,"a":99.968},{"v":2.8,"o":100.017,"f":99.977,"a":99.977},{"v":2.9,"o":99.962,"f":99.982,"a":99.982},
{"v":3.0,"o":100.076,"f":99.986},{"v":3.1,"o":99.949,"f":99.989},{"v":3.2,"o":100.041,"f":99.991},{"v":3.3,"o":99.962,"f":99.992},{"v":3.4,"o":100.013,"f":99.993},{"v":3.5,"o":99.944,"f":99.994},{"v":3.6,"o":100.035,"f":99.995},{"v":3.7,"o":99.976,"f":99.996},{"v":3.8,"o":100.056,"f":99.996},{"v":3.9,"o":99.956,"f":99.996},{"v":4.0,"o":100.027,"f":99.997},{"v":4.1,"o":99.947,"f":99.997},{"v":4.2,"o":100.017,"f":99.997},{"v":4.3,"o":99.968,"f":99.998},{"v":4.4,"o":100.048,"f":99.998},{"v":4.5,"o":99.978,"f":99.998},{"v":4.6,"o":100.038,"f":99.998},{"v":4.7,"o":99.958,"f":99.998},{"v":4.8,"o":100.098,"f":99.998},{"v":4.9,"o":100.058,"f":99.998},{"v":5.0,"o":99.969,"f":99.999}
],
"d7":[
{"v":-3.4,"o":100.028,"f":99.998},{"v":-3.3,"o":100.088,"f":99.998},{"v":-3.2,"o":99.978,"f":99.998},{"v":-3.1,"o":100.038,"f":99.998},{"v":-3.0,"o":99.968,"f":99.998},{"v":-2.9,"o":100.008,"f":99.998},{"v":-2.8,"o":99.958,"f":99.998},{"v":-2.7,"o":100.028,"f":99.998},{"v":-2.6,"o":99.987,"f":99.997},{"v":-2.5,"o":100.017,"f":99.997},{"v":-2.4,"o":99.962,"f":99.997},{"v":-2.3,"o":100.037,"f":99.997},{"v":-2.2,"o":99.977,"f":99.997},{"v":-2.1,"o":100.006,"f":99.996},{"v":-2.0,"o":99.956,"f":99.996},{"v":-1.9,"o":100.026,"f":99.996},{"v":-1.8,"o":99.975,"f":99.995},{"v":-1.7,"o":100.035,"f":99.995},{"v":-1.6,"o":99.964,"f":99.994},{"v":-1.5,"o":100.003,"f":99.993},{"v":-1.4,"o":99.952,"f":99.992},{"v":-1.3,"o":100.021,"f":99.991},{"v":-1.2,"o":99.97,"f":99.99},{"v":-1.1,"o":100.023,"f":99.988},{"v":-1.0,"o":99.956,"f":99.986},{"v":-0.9,"o":100.003,"f":99.983},{"v":-0.8,"o":99.939,"f":99.979},{"v":-0.7,"o":99.983,"f":99.973},
{"v":-0.6,"o":99.914,"f":99.964,"a":99.964},{"v":-0.5,"o":99.931,"f":99.951,"a":99.951},{"v":-0.45,"o":99.962,"f":99.942,"a":99.942,"b":100},{"v":-0.4,"o":99.873,"f":99.913,"a":99.929,"b":99.984},{"v":-0.35,"o":99.9,"f":99.88,"a":99.912,"b":99.967},{"v":-0.3,"o":99.798,"f":99.828,"a":99.889,"b":99.939},{"v":-0.25,"o":99.777,"f":99.747,"a":99.858,"b":99.889},{"v":-0.2,"o":99.61,"f":99.63,"a":99.814,"b":99.816},{"v":-0.175,"o":99.601,"f":99.561,"a":99.787,"b":99.775},{"v":-0.15,"o":99.459,"f":99.489,"a":99.756,"b":99.734},{"v":-0.125,"o":99.433,"f":99.413,"a":99.721,"b":99.693},{"v":-0.1,"o":99.296,"f":99.336,"a":99.684,"b":99.652},{"v":-0.075,"o":99.272,"f":99.262,"a":99.639,"b":99.623},{"v":-0.05,"o":99.189,"f":99.219,"a":99.617,"b":99.602},{"v":-0.025,"o":99.209,"f":99.189,"a":99.595,"b":99.594},{"v":0,"o":99.137,"f":99.177,"a":99.587,"b":99.59},{"v":0.025,"o":99.165,"f":99.185,"a":99.595,"b":99.59},{"v":0.05,"o":99.237,"f":99.207,"a":99.617,"b":99.59},{"v":0.075,"o":99.218,"f":99.228,"a":99.638,"b":99.59},{"v":0.1,"o":99.314,"f":99.274,"a":99.684,"b":99.59},{"v":0.125,"o":99.37,"f":99.31,"a":99.72,"b":99.59},{"v":0.15,"o":99.395,"f":99.345,"a":99.755,"b":99.59},{"v":0.175,"o":99.416,"f":99.376,"a":99.786,"b":99.59},{"v":0.2,"o":99.433,"f":99.403,"a":99.813,"b":99.59},{"v":0.25,"o":99.429,"f":99.459,"a":99.857,"b":99.602},{"v":0.3,"o":99.521,"f":99.511,"a":99.888,"b":99.623},{"v":0.35,"o":99.546,"f":99.566,"a":99.911,"b":99.656},{"v":0.4,"o":99.654,"f":99.624,"a":99.927,"b":99.697},{"v":0.45,"o":99.645,"f":99.685,"a":99.939,"b":99.746},{"v":0.5,"o":99.763,"f":99.743,"a":99.948,"b":99.795},{"v":0.6,"o":99.82,"f":99.85,"a":99.961,"b":99.889},{"v":0.7,"o":99.948,"f":99.928,"a":99.969,"b":99.959},{"v":0.8,"o":99.964,"f":99.974,"a":99.974,"b":100},
{"v":0.9,"o":100.017,"f":99.977,"a":99.977},{"v":1.0,"o":99.948,"f":99.978,"a":99.978},{"v":1.1,"o":99.999,"f":99.979,"a":99.979},{"v":1.2,"o":99.938,"f":99.978,"a":99.978},{"v":1.3,"o":99.987,"f":99.977,"a":99.977},{"v":1.4,"o":99.944,"f":99.974,"a":99.974},{"v":1.5,"o":99.999,"f":99.969,"a":99.969},{"v":1.6,"o":99.941,"f":99.961,"a":99.961},
{"v":1.7,"o":99.988,"f":99.948,"a":99.948},{"v":1.75,"o":99.909,"f":99.939,"a":99.939},{"v":1.8,"o":99.937,"f":99.927,"a":99.927},{"v":1.85,"o":99.871,"f":99.911,"a":99.911},{"v":1.9,"o":99.908,"f":99.888,"a":99.888},{"v":1.95,"o":99.827,"f":99.857,"a":99.857},{"v":2.0,"o":99.843,"f":99.813,"a":99.813},{"v":2.025,"o":99.766,"f":99.786,"a":99.786},{"v":2.05,"o":99.795,"f":99.755,"a":99.755},{"v":2.075,"o":99.69,"f":99.72,"a":99.72},{"v":2.1,"o":99.694,"f":99.684,"a":99.684},{"v":2.125,"o":99.578,"f":99.638,"a":99.638},{"v":2.15,"o":99.567,"f":99.617,"a":99.617},{"v":2.175,"o":99.615,"f":99.595,"a":99.595},{"v":2.2,"o":99.557,"f":99.587,"a":99.587},{"v":2.225,"o":99.505,"f":99.595,"a":99.595},{"v":2.25,"o":99.647,"f":99.617,"a":99.617},{"v":2.275,"o":99.619,"f":99.639,"a":99.639},{"v":2.3,"o":99.724,"f":99.684,"a":99.684},{"v":2.325,"o":99.771,"f":99.721,"a":99.721},{"v":2.35,"o":99.726,"f":99.756,"a":99.756},{"v":2.375,"o":99.807,"f":99.787,"a":99.787},{"v":2.4,"o":99.794,"f":99.814,"a":99.814},{"v":2.45,"o":99.888,"f":99.858,"a":99.858},{"v":2.5,"o":99.849,"f":99.889,"a":99.889},{"v":2.55,"o":99.862,"f":99.912,"a":99.912},{"v":2.6,"o":99.949,"f":99.929,"a":99.929},{"v":2.65,"o":99.881,"f":99.941,"a":99.941},{"v":2.7,"o":99.961,"f":99.951,"a":99.951},{"v":2.8,"o":99.924,"f":99.964,"a":99.964},{"v":2.9,"o":99.993,"f":99.973,"a":99.973},
{"v":3.0,"o":99.929,"f":99.979},{"v":3.1,"o":100.013,"f":99.983},{"v":3.2,"o":99.966,"f":99.986},{"v":3.3,"o":100.028,"f":99.988},{"v":3.4,"o":99.96,"f":99.99},{"v":3.5,"o":100.011,"f":99.991},{"v":3.6,"o":99.952,"f":99.992},{"v":3.7,"o":100.023,"f":99.993},{"v":3.8,"o":100.064,"f":99.994},{"v":3.9,"o":99.975,"f":99.995},{"v":4.0,"o":100.035,"f":99.995},{"v":4.1,"o":99.966,"f":99.996},{"v":4.2,"o":100.016,"f":99.996},{"v":4.3,"o":99.956,"f":99.996},{"v":4.4,"o":100.027,"f":99.997},{"v":4.5,"o":99.987,"f":99.997},{"v":4.6,"o":100.037,"f":99.997},{"v":4.7,"o":99.967,"f":99.997},{"v":4.8,"o":100.017,"f":99.997},{"v":4.9,"o":99.958,"f":99.998},{"v":5.0,"o":100.008,"f":99.998}
]
},
"vconcat":[
{"width":344,"height":122,"data":{"name":"d1"},
 "encoding":{"x":{"field":"v","type":"quantitative","scale":{"domain":[-3.48,5.12],"nice":false,"zero":false},"axis":{"orient":"top","labels":false,"ticks":false,"title":null,"domainWidth":3}}},
 "layer":[
  {"transform":[{"filter":"isValid(datum.a)"}],"mark":{"type":"area","fill":"#f7a1a1","fillOpacity":0.5,"stroke":"#444","strokeWidth":1},"encoding":{"y":{"field":"a","type":"quantitative","scale":{"domain":[87.13,103.04],"nice":false,"zero":false},"axis":{"values":[90,95,100],"format":"d","title":null}},"y2":{"datum":100}}},
  {"mark":{"type":"point","shape":"circle","filled":true,"fill":"white","stroke":"black","strokeWidth":1.1,"size":52,"opacity":1},"encoding":{"y":{"field":"o","type":"quantitative","scale":{"domain":[87.13,103.04],"nice":false,"zero":false},"axis":{"values":[90,95,100],"format":"d","title":null}}}},
  {"mark":{"type":"line","color":"#d81b1b","strokeWidth":1.6},"encoding":{"y":{"field":"f","type":"quantitative","scale":{"domain":[87.13,103.04],"nice":false,"zero":false},"axis":{"values":[90,95,100],"format":"d","title":null}}}},
  {"data":{"name":"lab"},"transform":[{"filter":"datum.p==1 && datum.k=='lab'"}],"mark":{"type":"text","fontWeight":"bold","fontSize":14.5},"encoding":{"y":{"field":"t","type":"quantitative","scale":{"domain":[87.13,103.04],"nice":false,"zero":false},"axis":{"values":[90,95,100],"format":"d","title":null}},"text":{"field":"s"}}}
 ]},
{"width":344,"height":111,"data":{"name":"d2"},
 "encoding":{"x":{"field":"v","type":"quantitative","scale":{"domain":[-3.48,5.12],"nice":false,"zero":false},"axis":null}},
 "layer":[
  {"transform":[{"filter":"isValid(datum.a)"}],"mark":{"type":"area","fill":"#f7a1a1","fillOpacity":0.5,"stroke":"#444","strokeWidth":1},"encoding":{"y":{"field":"a","type":"quantitative","scale":{"domain":[98.457,100.371],"nice":false,"zero":false},"axis":{"values":[99,99.5,100],"format":".1f","title":null}},"y2":{"datum":100}}},
  {"transform":[{"filter":"isValid(datum.b)"}],"mark":{"type":"area","fill":"#8aa8ee","fillOpacity":0.5,"stroke":"#3a4a80","strokeWidth":1},"encoding":{"y":{"field":"b","type":"quantitative","scale":{"domain":[98.457,100.371],"nice":false,"zero":false},"axis":{"values":[99,99.5,100],"format":".1f","title":null}},"y2":{"datum":100}}},
  {"mark":{"type":"point","shape":"circle","filled":true,"fill":"white","stroke":"black","strokeWidth":1.1,"size":52,"opacity":1},"encoding":{"y":{"field":"o","type":"quantitative","scale":{"domain":[98.457,100.371],"nice":false,"zero":false},"axis":{"values":[99,99.5,100],"format":".1f","title":null}}}},
  {"mark":{"type":"line","color":"#d81b1b","strokeWidth":1.6},"encoding":{"y":{"field":"f","type":"quantitative","scale":{"domain":[98.457,100.371],"nice":false,"zero":false},"axis":{"values":[99,99.5,100],"format":".1f","title":null}}}},
  {"data":{"name":"lab"},"transform":[{"filter":"datum.p==2 && datum.k=='lab'"}],"mark":{"type":"text","fontWeight":"bold","fontSize":14.5},"encoding":{"y":{"field":"t","type":"quantitative","scale":{"domain":[98.457,100.371],"nice":false,"zero":false},"axis":{"values":[99,99.5,100],"format":".1f","title":null}},"text":{"field":"s"}}},
  {"data":{"name":"lab"},"transform":[{"filter":"datum.p==2 && datum.k=='sup'"}],"mark":{"type":"text","fontWeight":"bold","fontSize":11},"encoding":{"y":{"field":"t","type":"quantitative","scale":{"domain":[98.457,100.371],"nice":false,"zero":false},"axis":{"values":[99,99.5,100],"format":".1f","title":null}},"text":{"field":"s"}}},
  {"data":{"name":"lab"},"transform":[{"filter":"datum.p==2 && datum.k=='pct'"}],"mark":{"type":"text","fontSize":19,"color":"#2525c8"},"encoding":{"y":{"field":"t","type":"quantitative","scale":{"domain":[98.457,100.371],"nice":false,"zero":false},"axis":{"values":[99,99.5,100],"format":".1f","title":null}},"text":{"field":"s"}}},
  {"data":{"name":"lab"},"transform":[{"filter":"datum.p==2 && (datum.k=='fe3' || datum.k=='fe2')"}],"mark":{"type":"text","fontWeight":"bold","fontSize":22},"encoding":{"y":{"field":"t","type":"quantitative","scale":{"domain":[98.457,100.371],"nice":false,"zero":false},"axis":{"values":[99,99.5,100],"format":".1f","title":null}},"text":{"field":"s"},"color":{"field":"k","type":"nominal","scale":{"domain":["fe3","fe2","fe3s","fe2s"],"range":["#1919d6","#e31a1a","#1919d6","#e31a1a"]},"legend":null}}},
  {"data":{"name":"lab"},"transform":[{"filter":"datum.p==2 && (datum.k=='fe3s' || datum.k=='fe2s')"}],"mark":{"type":"text","fontWeight":"bold","fontSize":13},"encoding":{"y":{"field":"t","type":"quantitative","scale":{"domain":[98.457,100.371],"nice":false,"zero":false},"axis":{"values":[99,99.5,100],"format":".1f","title":null}},"text":{"field":"s"},"color":{"field":"k","type":"nominal","scale":{"domain":["fe3","fe2","fe3s","fe2s"],"range":["#1919d6","#e31a1a","#1919d6","#e31a1a"]},"legend":null}}}
 ]},
{"width":344,"height":110,"data":{"name":"d3"},
 "encoding":{"x":{"field":"v","type":"quantitative","scale":{"domain":[-3.48,5.12],"nice":false,"zero":false},"axis":null}},
 "layer":[
  {"transform":[{"filter":"isValid(datum.a)"}],"mark":{"type":"area","fill":"#f7a1a1","fillOpacity":0.5,"stroke":"#444","strokeWidth":1},"encoding":{"y":{"field":"a","type":"quantitative","scale":{"domain":[99.117,100.145],"nice":false,"zero":false},"axis":{"values":[99.4,99.6,99.8,100],"format":".1f","title":null}},"y2":{"datum":100}}},
  {"transform":[{"filter":"isValid(datum.b)"}],"mark":{"type":"area","fill":"#8aa8ee","fillOpacity":0.5,"stroke":"#3a4a80","strokeWidth":1},"encoding":{"y":{"field":"b","type":"quantitative","scale":{"domain":[99.117,100.145],"nice":false,"zero":false},"axis":{"values":[99.4,99.6,99.8,100],"format":".1f","title":null}},"y2":{"datum":100}}},
  {"mark":{"type":"point","shape":"circle","filled":true,"fill":"white","stroke":"black","strokeWidth":1.1,"size":52,"opacity":1},"encoding":{"y":{"field":"o","type":"quantitative","scale":{"domain":[99.117,100.145],"nice":false,"zero":false},"axis":{"values":[99.4,99.6,99.8,100],"format":".1f","title":null}}}},
  {"mark":{"type":"line","color":"#d81b1b","strokeWidth":1.6},"encoding":{"y":{"field":"f","type":"quantitative","scale":{"domain":[99.117,100.145],"nice":false,"zero":false},"axis":{"values":[99.4,99.6,99.8,100],"format":".1f","title":null}}}},
  {"data":{"name":"lab"},"transform":[{"filter":"datum.p==3 && datum.k=='lab'"}],"mark":{"type":"text","fontWeight":"bold","fontSize":14.5},"encoding":{"y":{"field":"t","type":"quantitative","scale":{"domain":[99.117,100.145],"nice":false,"zero":false},"axis":{"values":[99.4,99.6,99.8,100],"format":".1f","title":null}},"text":{"field":"s"}}},
  {"data":{"name":"lab"},"transform":[{"filter":"datum.p==3 && datum.k=='sup'"}],"mark":{"type":"text","fontWeight":"bold","fontSize":11},"encoding":{"y":{"field":"t","type":"quantitative","scale":{"domain":[99.117,100.145],"nice":false,"zero":false},"axis":{"values":[99.4,99.6,99.8,100],"format":".1f","title":null}},"text":{"field":"s"}}},
  {"data":{"name":"lab"},"transform":[{"filter":"datum.p==3 && datum.k=='pct'"}],"mark":{"type":"text","fontSize":19,"color":"#2525c8"},"encoding":{"y":{"field":"t","type":"quantitative","scale":{"domain":[99.117,100.145],"nice":false,"zero":false},"axis":{"values":[99.4,99.6,99.8,100],"format":".1f","title":null}},"text":{"field":"s"}}}
 ]},
{"width":344,"height":120,"data":{"name":"d4"},
 "encoding":{"x":{"field":"v","type":"quantitative","scale":{"domain":[-3.48,5.12],"nice":false,"zero":false},"axis":null}},
 "layer":[
  {"transform":[{"filter":"isValid(datum.a)"}],"mark":{"type":"area","fill":"#f7a1a1","fillOpacity":0.5,"stroke":"#444","strokeWidth":1},"encoding":{"y":{"field":"a","type":"quantitative","scale":{"domain":[98.946,100.223],"nice":false,"zero":false},"axis":{"values":[99,99.5,100],"format":".1f","title":"Transmission  (%)","titleFontSize":28,"titleAngle":270,"titleX":-115,"titleY":70,"titleAlign":"center","titleBaseline":"middle"}},"y2":{"datum":100}}},
  {"transform":[{"filter":"isValid(datum.b)"}],"mark":{"type":"area","fill":"#8aa8ee","fillOpacity":0.5,"stroke":"#3a4a80","strokeWidth":1},"encoding":{"y":{"field":"b","type":"quantitative","scale":{"domain":[98.946,100.223],"nice":false,"zero":false},"axis":{"values":[99,99.5,100],"format":".1f","title":"Transmission  (%)","titleFontSize":28,"titleAngle":270,"titleX":-115,"titleY":70,"titleAlign":"center","titleBaseline":"middle"}},"y2":{"datum":100}}},
  {"mark":{"type":"point","shape":"circle","filled":true,"fill":"white","stroke":"black","strokeWidth":1.1,"size":52,"opacity":1},"encoding":{"y":{"field":"o","type":"quantitative","scale":{"domain":[98.946,100.223],"nice":false,"zero":false},"axis":{"values":[99,99.5,100],"format":".1f","title":"Transmission  (%)","titleFontSize":28,"titleAngle":270,"titleX":-115,"titleY":70,"titleAlign":"center","titleBaseline":"middle"}}}},
  {"mark":{"type":"line","color":"#d81b1b","strokeWidth":1.6},"encoding":{"y":{"field":"f","type":"quantitative","scale":{"domain":[98.946,100.223],"nice":false,"zero":false},"axis":{"values":[99,99.5,100],"format":".1f","title":"Transmission  (%)","titleFontSize":28,"titleAngle":270,"titleX":-115,"titleY":70,"titleAlign":"center","titleBaseline":"middle"}}}},
  {"data":{"name":"lab"},"transform":[{"filter":"datum.p==4 && datum.k=='lab'"}],"mark":{"type":"text","fontWeight":"bold","fontSize":14.5},"encoding":{"y":{"field":"t","type":"quantitative","scale":{"domain":[98.946,100.223],"nice":false,"zero":false},"axis":{"values":[99,99.5,100],"format":".1f","title":"Transmission  (%)","titleFontSize":28,"titleAngle":270,"titleX":-115,"titleY":70,"titleAlign":"center","titleBaseline":"middle"}},"text":{"field":"s"}}},
  {"data":{"name":"lab"},"transform":[{"filter":"datum.p==4 && datum.k=='sup'"}],"mark":{"type":"text","fontWeight":"bold","fontSize":11},"encoding":{"y":{"field":"t","type":"quantitative","scale":{"domain":[98.946,100.223],"nice":false,"zero":false},"axis":{"values":[99,99.5,100],"format":".1f","title":"Transmission  (%)","titleFontSize":28,"titleAngle":270,"titleX":-115,"titleY":70,"titleAlign":"center","titleBaseline":"middle"}},"text":{"field":"s"}}},
  {"data":{"name":"lab"},"transform":[{"filter":"datum.p==4 && datum.k=='pct'"}],"mark":{"type":"text","fontSize":19,"color":"#2525c8"},"encoding":{"y":{"field":"t","type":"quantitative","scale":{"domain":[98.946,100.223],"nice":false,"zero":false},"axis":{"values":[99,99.5,100],"format":".1f","title":"Transmission  (%)","titleFontSize":28,"titleAngle":270,"titleX":-115,"titleY":70,"titleAlign":"center","titleBaseline":"middle"}},"text":{"field":"s"}}}
 ]},
{"width":344,"height":112,"data":{"name":"d5"},
 "encoding":{"x":{"field":"v","type":"quantitative","scale":{"domain":[-3.48,5.12],"nice":false,"zero":false},"axis":null}},
 "layer":[
  {"transform":[{"filter":"isValid(datum.a)"}],"mark":{"type":"area","fill":"#f7a1a1","fillOpacity":0.5,"stroke":"#444","strokeWidth":1},"encoding":{"y":{"field":"a","type":"quantitative","scale":{"domain":[98.493,100.14],"nice":false,"zero":false},"axis":{"values":[99,99.5,100],"format":".1f","title":null}},"y2":{"datum":100}}},
  {"transform":[{"filter":"isValid(datum.b)"}],"mark":{"type":"area","fill":"#8aa8ee","fillOpacity":0.5,"stroke":"#3a4a80","strokeWidth":1},"encoding":{"y":{"field":"b","type":"quantitative","scale":{"domain":[98.493,100.14],"nice":false,"zero":false},"axis":{"values":[99,99.5,100],"format":".1f","title":null}},"y2":{"datum":100}}},
  {"mark":{"type":"point","shape":"circle","filled":true,"fill":"white","stroke":"black","strokeWidth":1.1,"size":52,"opacity":1},"encoding":{"y":{"field":"o","type":"quantitative","scale":{"domain":[98.493,100.14],"nice":false,"zero":false},"axis":{"values":[99,99.5,100],"format":".1f","title":null}}}},
  {"mark":{"type":"line","color":"#d81b1b","strokeWidth":1.6},"encoding":{"y":{"field":"f","type":"quantitative","scale":{"domain":[98.493,100.14],"nice":false,"zero":false},"axis":{"values":[99,99.5,100],"format":".1f","title":null}}}},
  {"data":{"name":"lab"},"transform":[{"filter":"datum.p==5 && datum.k=='lab'"}],"mark":{"type":"text","fontWeight":"bold","fontSize":14.5},"encoding":{"y":{"field":"t","type":"quantitative","scale":{"domain":[98.493,100.14],"nice":false,"zero":false},"axis":{"values":[99,99.5,100],"format":".1f","title":null}},"text":{"field":"s"}}},
  {"data":{"name":"lab"},"transform":[{"filter":"datum.p==5 && datum.k=='sup'"}],"mark":{"type":"text","fontWeight":"bold","fontSize":11},"encoding":{"y":{"field":"t","type":"quantitative","scale":{"domain":[98.493,100.14],"nice":false,"zero":false},"axis":{"values":[99,99.5,100],"format":".1f","title":null}},"text":{"field":"s"}}},
  {"data":{"name":"lab"},"transform":[{"filter":"datum.p==5 && datum.k=='pct'"}],"mark":{"type":"text","fontSize":19,"color":"#2525c8"},"encoding":{"y":{"field":"t","type":"quantitative","scale":{"domain":[98.493,100.14],"nice":false,"zero":false},"axis":{"values":[99,99.5,100],"format":".1f","title":null}},"text":{"field":"s"}}}
 ]},
{"width":344,"height":110,"data":{"name":"d6"},
 "encoding":{"x":{"field":"v","type":"quantitative","scale":{"domain":[-3.48,5.12],"nice":false,"zero":false},"axis":null}},
 "layer":[
  {"transform":[{"filter":"isValid(datum.a)"}],"mark":{"type":"area","fill":"#f7a1a1","fillOpacity":0.5,"stroke":"#444","strokeWidth":1},"encoding":{"y":{"field":"a","type":"quantitative","scale":{"domain":[99.164,100.164],"nice":false,"zero":false},"axis":{"values":[99.4,99.6,99.8,100],"format":".1f","title":null}},"y2":{"datum":100}}},
  {"transform":[{"filter":"isValid(datum.b)"}],"mark":{"type":"area","fill":"#8aa8ee","fillOpacity":0.5,"stroke":"#3a4a80","strokeWidth":1},"encoding":{"y":{"field":"b","type":"quantitative","scale":{"domain":[99.164,100.164],"nice":false,"zero":false},"axis":{"values":[99.4,99.6,99.8,100],"format":".1f","title":null}},"y2":{"datum":100}}},
  {"mark":{"type":"point","shape":"circle","filled":true,"fill":"white","stroke":"black","strokeWidth":1.1,"size":52,"opacity":1},"encoding":{"y":{"field":"o","type":"quantitative","scale":{"domain":[99.164,100.164],"nice":false,"zero":false},"axis":{"values":[99.4,99.6,99.8,100],"format":".1f","title":null}}}},
  {"mark":{"type":"line","color":"#d81b1b","strokeWidth":1.6},"encoding":{"y":{"field":"f","type":"quantitative","scale":{"domain":[99.164,100.164],"nice":false,"zero":false},"axis":{"values":[99.4,99.6,99.8,100],"format":".1f","title":null}}}},
  {"data":{"name":"lab"},"transform":[{"filter":"datum.p==6 && datum.k=='lab'"}],"mark":{"type":"text","fontWeight":"bold","fontSize":14.5},"encoding":{"y":{"field":"t","type":"quantitative","scale":{"domain":[99.164,100.164],"nice":false,"zero":false},"axis":{"values":[99.4,99.6,99.8,100],"format":".1f","title":null}},"text":{"field":"s"}}},
  {"data":{"name":"lab"},"transform":[{"filter":"datum.p==6 && datum.k=='sup'"}],"mark":{"type":"text","fontWeight":"bold","fontSize":11},"encoding":{"y":{"field":"t","type":"quantitative","scale":{"domain":[99.164,100.164],"nice":false,"zero":false},"axis":{"values":[99.4,99.6,99.8,100],"format":".1f","title":null}},"text":{"field":"s"}}},
  {"data":{"name":"lab"},"transform":[{"filter":"datum.p==6 && datum.k=='pct'"}],"mark":{"type":"text","fontSize":19,"color":"#2525c8"},"encoding":{"y":{"field":"t","type":"quantitative","scale":{"domain":[99.164,100.164],"nice":false,"zero":false},"axis":{"values":[99.4,99.6,99.8,100],"format":".1f","title":null}},"text":{"field":"s"}}}
 ]},
{"width":344,"height":115,"data":{"name":"d7"},
 "encoding":{"x":{"field":"v","type":"quantitative","scale":{"domain":[-3.48,5.12],"nice":false,"zero":false},"axis":{"orient":"bottom","values":[-3,-2,-1,0,1,2,3,4,5],"tickSize":{"condition":{"test":"datum.value % 2 === 0","value":-10},"value":-5},"labelPadding":30,"labelExpr":"datum.value % 2 === 0 ? (datum.value < 0 ? '-' + abs(datum.value) : '' + datum.value) : ''","title":"Velocity  (mm/s)","titleFontSize":25,"titlePadding":3}}},
 "layer":[
  {"transform":[{"filter":"isValid(datum.a)"}],"mark":{"type":"area","fill":"#f7a1a1","fillOpacity":0.5,"stroke":"#444","strokeWidth":1},"encoding":{"y":{"field":"a","type":"quantitative","scale":{"domain":[98.989,100.239],"nice":false,"zero":false},"axis":{"values":[99,99.5,100],"format":".1f","title":null}},"y2":{"datum":100}}},
  {"transform":[{"filter":"isValid(datum.b)"}],"mark":{"type":"area","fill":"#8aa8ee","fillOpacity":0.5,"stroke":"#3a4a80","strokeWidth":1},"encoding":{"y":{"field":"b","type":"quantitative","scale":{"domain":[98.989,100.239],"nice":false,"zero":false},"axis":{"values":[99,99.5,100],"format":".1f","title":null}},"y2":{"datum":100}}},
  {"mark":{"type":"point","shape":"circle","filled":true,"fill":"white","stroke":"black","strokeWidth":1.1,"size":52,"opacity":1},"encoding":{"y":{"field":"o","type":"quantitative","scale":{"domain":[98.989,100.239],"nice":false,"zero":false},"axis":{"values":[99,99.5,100],"format":".1f","title":null}}}},
  {"mark":{"type":"line","color":"#d81b1b","strokeWidth":1.6},"encoding":{"y":{"field":"f","type":"quantitative","scale":{"domain":[98.989,100.239],"nice":false,"zero":false},"axis":{"values":[99,99.5,100],"format":".1f","title":null}}}},
  {"data":{"name":"lab"},"transform":[{"filter":"datum.p==7 && datum.k=='lab'"}],"mark":{"type":"text","fontWeight":"bold","fontSize":14.5},"encoding":{"y":{"field":"t","type":"quantitative","scale":{"domain":[98.989,100.239],"nice":false,"zero":false},"axis":{"values":[99,99.5,100],"format":".1f","title":null}},"text":{"field":"s"}}},
  {"data":{"name":"lab"},"transform":[{"filter":"datum.p==7 && datum.k=='sup'"}],"mark":{"type":"text","fontWeight":"bold","fontSize":11},"encoding":{"y":{"field":"t","type":"quantitative","scale":{"domain":[98.989,100.239],"nice":false,"zero":false},"axis":{"values":[99,99.5,100],"format":".1f","title":null}},"text":{"field":"s"}}},
  {"data":{"name":"lab"},"transform":[{"filter":"datum.p==7 && datum.k=='pct'"}],"mark":{"type":"text","fontSize":19,"color":"#2525c8"},"encoding":{"y":{"field":"t","type":"quantitative","scale":{"domain":[98.989,100.239],"nice":false,"zero":false},"axis":{"values":[99,99.5,100],"format":".1f","title":null}},"text":{"field":"s"}}}
 ]}
]
}
